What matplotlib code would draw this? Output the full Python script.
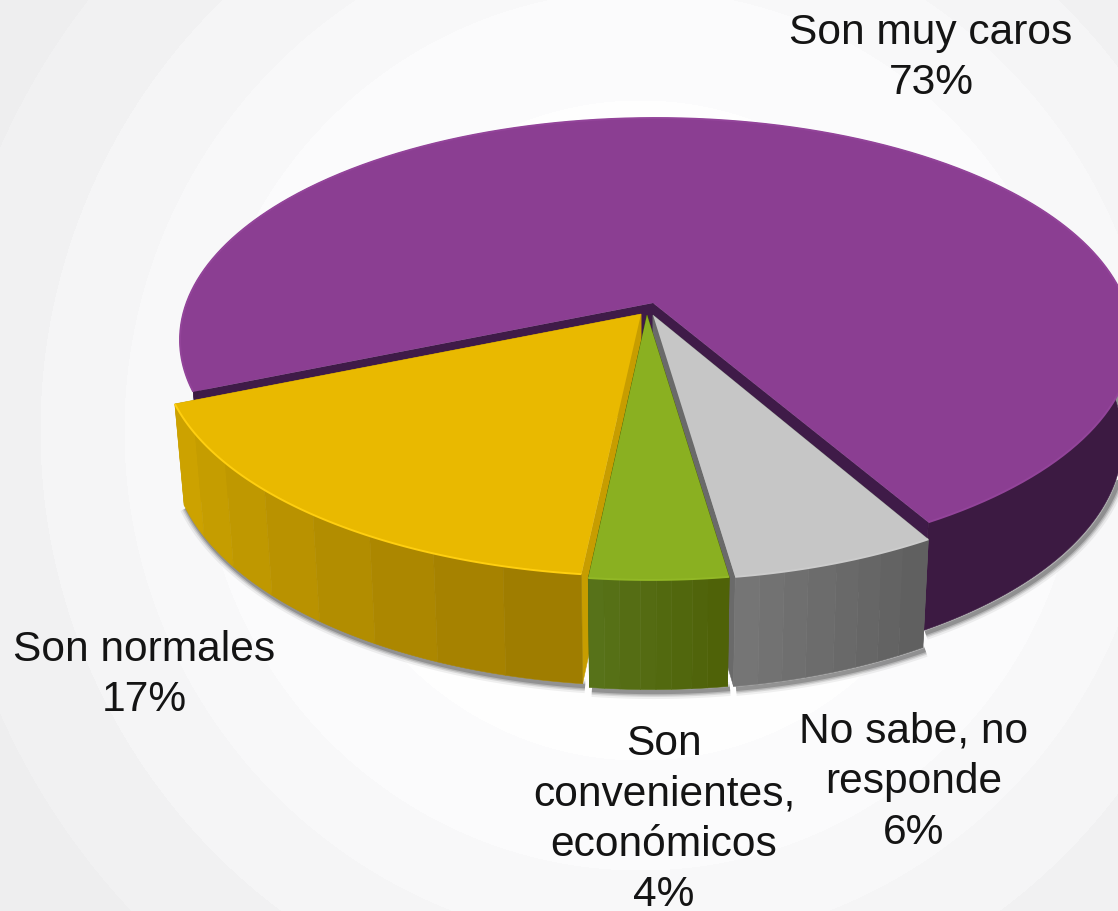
import numpy as np
import matplotlib
matplotlib.use("Agg")
import matplotlib.pyplot as plt
from matplotlib.patches import Polygon
from matplotlib.colors import to_rgb

plt.rcParams['font.family'] = ['Liberation Sans', 'DejaVu Sans']

# data
categories = ['Son muy caros', 'Son normales', 'Son convenientes, económicos', 'No sabe, no responde']
values = [73, 17, 4, 6]

# label layout
label_lines = [['Son muy caros', '73%'],
               ['Son normales', '17%'],
               ['Son', 'convenientes,', 'económicos', '4%'],
               ['No sabe, no', 'responde', '6%']]
label_x = [931, 144, 664, 914]
label_base = [44, 661, 755, 743]
line_step = 50.3

# style per slice
top_col = ['#8B3E92', '#E9B900', '#8AB021', '#C6C6C6']
wall_left = ['#3C1A42', '#CFA500', '#58731A', '#777777']
wall_right = ['#3C1A42', '#9C7A00', '#4E6107', '#5E5E5E']
inner_col = ['#3F1B48', '#C79D00', '#4E6107', '#6A6A6A']
rim_col = ['#93449A', '#FFCF10', '#92B826', '#CCCCCC']
apex_x = [653, 641, 647, 653]
apex_y = [303, 314, 315, 315]
radius_x = [1.0, 1.014, 1.0, 1.0]
radius_y = [1.0, 1.012, 1.023, 1.023]

START = 30.0
A, B, K, KU = 469.4, 215.8, 0.1667, 0.0064
SX, SY, DEPTH = 0.98, 0.97, 98.0


def persp(th):
    t = np.radians(th)
    u, v = np.sin(t), np.cos(t)
    return u, v, 1 - K * v - KU * u


def top(th, i):
    u, v, w = persp(th)
    return apex_x[i] + A * radius_x[i] * u / w, apex_y[i] + B * radius_y[i] * v / w


def bottom(th, i):
    x, y = top(th, i)
    w = persp(th)[2]
    return apex_x[i] + (x - apex_x[i]) * SX, apex_y[i] + (y - apex_y[i]) * SY + DEPTH / w


fig = plt.figure(figsize=(11.18, 9.11), dpi=100)
ax = fig.add_axes([0, 0, 1, 1])
ax.set_xlim(0, 1118)
ax.set_ylim(911, 0)
ax.axis('off')

# stepped radial backdrop
yy, xx = np.mgrid[0:911, 0:1118]
rr = np.hypot(xx - 640, yy - 430)
edges = [330, 440, 516, 600, 700]
levels = np.array([254, 251, 248, 245, 241, 238]) / 255
grey = levels[np.digitize(rr, edges)]
img = np.dstack([grey, grey, grey + 0.006 * (grey < 0.99)]).clip(0, 1)
ax.imshow(img, extent=(0, 1118, 911, 0), aspect='auto', zorder=0, interpolation='bilinear')

# slice spans
fr = np.array(values) / sum(values) * 360
starts = START + np.concatenate([[0], np.cumsum(fr)[:-1]])
ends = starts + fr


def blend(c1, c2, f):
    a, b = np.array(to_rgb(c1)), np.array(to_rgb(c2))
    return tuple(a + (b - a) * f)


def draw_slice(i, z):
    s, e = starts[i], ends[i]
    ths = np.linspace(s, e, max(int(fr[i] * 2), 8))
    tx, ty = zip(*[top(t, i) for t in ths])
    bx, by = zip(*[bottom(t, i) for t in ths])
    # soft shadow below the lower rim
    for lw, al in zip([10, 7, 5, 3], [0.06, 0.10, 0.14, 0.20]):
        ax.plot(np.array(bx) + 2.5, np.array(by) + 2.5, color='k', lw=lw, alpha=al,
                zorder=z, solid_capstyle='butt')
    # radial faces
    axb, ayb = apex_x[i], apex_y[i] + DEPTH
    for t in (s, e):
        x0, y0 = top(t, i)
        x1, y1 = bottom(t, i)
        ax.add_patch(Polygon([(apex_x[i], apex_y[i]), (x0, y0), (x1, y1), (axb, ayb)],
                             fc=inner_col[i], ec=inner_col[i], lw=0.4, zorder=z + 0.1))
    # outer wall, in shaded strips
    n = 8 if fr[i] < 100 else 1
    idx = np.linspace(0, len(ths) - 1, n + 1).astype(int)
    for k in range(n):
        a, b = idx[k], idx[k + 1]
        xs = list(tx[a:b + 1]) + list(bx[a:b + 1])[::-1]
        ys = list(ty[a:b + 1]) + list(by[a:b + 1])[::-1]
        f = (k + 0.5) / n
        col = blend(wall_left[i], wall_right[i], f)
        ax.add_patch(Polygon(np.c_[xs, ys], fc=col, ec=col, lw=0.4, zorder=z + 0.2))
    # top face
    pts = [(apex_x[i], apex_y[i])] + list(zip(tx, ty))
    ax.add_patch(Polygon(pts, fc=top_col[i], ec='none', zorder=z + 0.3))
    ax.plot(tx, ty, color=rim_col[i], lw=1.4, zorder=z + 0.4, solid_capstyle='butt')


# painter's order: back to front
for z, i in zip([1, 2, 3, 4], [0, 1, 3, 2]):
    draw_slice(i, z)

# labels
for lines, x, b in zip(label_lines, label_x, label_base):
    for n, line in enumerate(lines):
        ax.text(x, b + n * line_step, line, ha='center', va='baseline', fontsize=30.6,
                color='#141414', zorder=10)

fig.savefig('out.png', dpi=100)
